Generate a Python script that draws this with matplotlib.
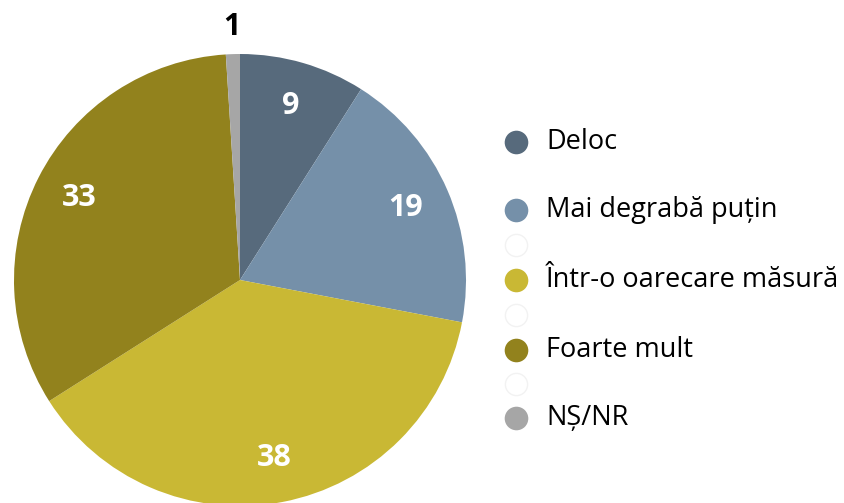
import numpy as np
import matplotlib.pyplot as plt

categories = ['Deloc', 'Mai degrabă puțin', 'Într-o oarecare măsură', 'Foarte mult', 'NȘ/NR']
values = [9, 19, 38, 33, 1]
colors = ['#576a7c', '#7590a9', '#c9b834', '#92821d', '#a6a6a6']

plt.rcParams['font.family'] = ['Open Sans', 'DejaVu Sans']

W, H = 845, 503
fig = plt.figure(figsize=(W / 100, H / 100), dpi=100)

# pie axes: centre (240, 280) px, radius 226 px
cx, cy, r = 240, 280, 226
ax = fig.add_axes([(cx - r) / W, (H - cy - r) / H, 2 * r / W, 2 * r / H])
wedges, _ = ax.pie(values, colors=colors, startangle=90, counterclock=False,
                   radius=1, wedgeprops=dict(linewidth=0))
ax.set_xlim(-1, 1)
ax.set_ylim(-1, 1)
ax.set_aspect('equal')
ax.axis('off')

for w, v in zip(wedges, values):
    ang = np.deg2rad((w.theta1 + w.theta2) / 2)
    if v < 5:
        d, col = 1.12, 'black'
    else:
        d, col = 0.8, 'white'
    ax.text(d * np.cos(ang), d * np.sin(ang), str(v), ha='center', va='center',
            fontsize=22, fontweight='bold', color=col, clip_on=False)

# legend, with faint blank entries between items like the original
lax = fig.add_axes([0, 0, 1, 1])
lax.set_xlim(0, W)
lax.set_ylim(H, 0)
lax.axis('off')
rows = [142, 176, 210, 245, 280, 315, 350, 384, 418]
labels = ['Deloc', None, 'Mai degrabă puțin', None, 'Într-o oarecare măsură',
          None, 'Foarte mult', None, 'NȘ/NR']
ci = 0
for y, lab in zip(rows, labels):
    if lab is None:
        if y != 176:
            lax.plot(516, y, 'o', ms=16, mfc='white', mec='#f2f2f2', mew=1)
        continue
    lax.plot(516, y, 'o', ms=17, color=colors[ci], mew=0)
    lax.text(546, y, lab, ha='left', va='center', fontsize=19.5, color='black')
    ci += 1

fig.savefig('out.png', dpi=100)
